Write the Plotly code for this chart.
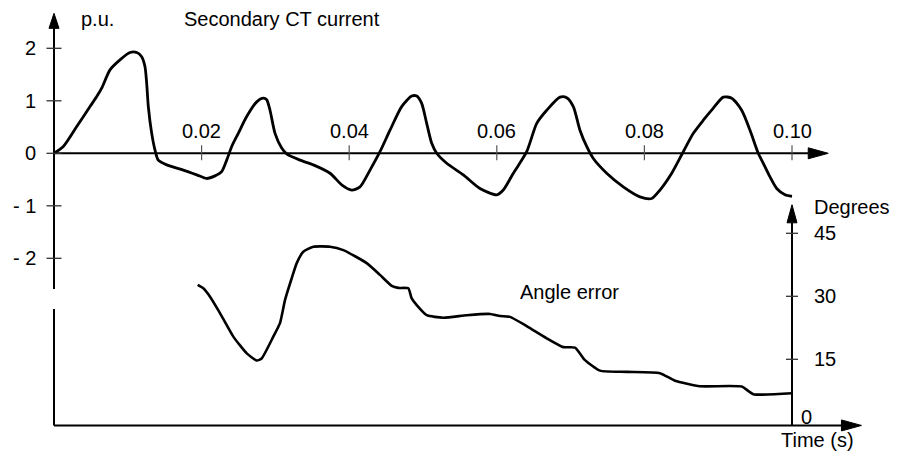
import plotly.graph_objects as go

# ---------------- data (time in ms) ----------------
t_current_ms = [0.0, 1.26, 3.08, 4.88, 5.79, 6.46, 7.59, 8.94, 10.30, 11.21, 11.88, 12.33, 12.56,
                12.78, 13.24, 13.69, 14.13, 15.27, 17.52, 19.34, 20.69, 21.82, 22.72, 23.40, 24.08,
                24.97, 26.11, 27.47, 28.36, 28.82, 29.27, 29.95, 30.85, 31.53, 33.33, 35.14, 37.40,
                38.98, 40.34, 41.46, 42.82, 44.17, 45.53, 47.11, 48.47, 49.15, 49.82, 50.50, 51.18,
                51.86, 53.21, 55.46, 57.72, 59.99, 60.88, 62.24, 64.05, 65.41, 66.76, 68.56, 69.47,
                70.37, 71.27, 72.18, 73.08, 74.89, 77.14, 79.40, 80.99, 82.11, 83.70, 85.27, 86.63,
                87.98, 89.34, 90.69, 91.83, 93.18, 94.31, 95.43, 96.11, 97.02, 97.93, 99.05, 100.0]
current_pu = [0.00, 0.13, 0.51, 0.89, 1.08, 1.24, 1.59, 1.78, 1.92, 1.92, 1.84, 1.65, 1.33,
              0.89, 0.38, 0.06, -0.13, -0.22, -0.32, -0.41, -0.48, -0.43, -0.35, -0.13, 0.13,
              0.38, 0.70, 0.98, 1.05, 1.02, 0.82, 0.38, 0.10, -0.01, -0.13, -0.22, -0.38,
              -0.60, -0.70, -0.64, -0.32, 0.03, 0.44, 0.89, 1.09, 1.09, 0.95, 0.57, 0.19,
              0.00, -0.19, -0.41, -0.67, -0.79, -0.70, -0.38, 0.03, 0.57, 0.82, 1.07, 1.06,
              0.89, 0.44, 0.13, -0.10, -0.38, -0.64, -0.83, -0.86, -0.70, -0.38, 0.03, 0.38,
              0.63, 0.86, 1.07, 1.05, 0.82, 0.44, 0.00, -0.19, -0.45, -0.67, -0.79, -0.82]

t_angle_ms = [19.47, 20.23, 21.14, 22.49, 24.30, 26.12, 27.47, 28.14, 29.72, 30.62, 31.30, 32.21,
              32.89, 33.78, 35.14, 37.40, 39.20, 42.37, 44.17, 45.76, 46.65, 48.01, 48.47, 49.15,
              50.50, 52.75, 55.92, 59.08, 60.43, 61.79, 64.05, 66.76, 69.01, 70.60, 71.95, 73.98,
              77.60, 82.11, 84.15, 87.53, 93.18, 94.76, 100.0]
angle_deg = [32.7, 31.9, 29.9, 26.0, 20.4, 16.4, 14.7, 15.2, 20.4, 23.6, 29.1, 34.3,
             37.9, 40.6, 41.8, 41.8, 41.0, 37.9, 35.1, 32.5, 32.0, 31.9, 29.5, 27.9,
             25.5, 24.9, 25.5, 25.8, 25.3, 25.1, 22.9, 20.0, 17.9, 17.8, 14.8, 12.3,
             12.0, 11.7, 9.9, 8.6, 8.5, 6.7, 6.9]

y_ticks = [2, 1, 0, -1, -2]
y_tick_labels = ["2", "1", "0", "- 1", "- 2"]
x_ticks = [0.02, 0.04, 0.06, 0.08, 0.10]
x_tick_labels = ["0.02", "0.04", "0.06", "0.08", "0.10"]
deg_ticks = [45, 30, 15]
deg_tick_labels = ["45", "30", "15"]

# ---------------- scale helpers (pixels per unit of the drawing) ----------------
PX_T = 7380.0      # px per second
PX_I = 52.5        # px per p.u.
PX_D = 4.2         # px per degree
PAGE_OFF = 8       # default page margin of the html body

def dt(px):
    return px / PX_T

def di(px):
    return px / PX_I

def dd(px):
    return px / PX_D

FONT = dict(family="Liberation Sans, Arial, sans-serif", size=20, color="black")
AX_W = 2
T_RIGHT = 0.10
DEG_AXIS = -0.75

fig = go.Figure()

fig.add_trace(go.Scatter(
    x=[v / 1000 for v in t_current_ms], y=current_pu, mode="lines",
    line=dict(color="black", width=2.8, shape="spline", smoothing=0.7),
    yaxis="y", hoverinfo="skip", showlegend=False))

fig.add_trace(go.Scatter(
    x=[v / 1000 for v in t_angle_ms], y=angle_deg, mode="lines",
    line=dict(color="black", width=2.6, shape="spline", smoothing=0.5),
    yaxis="y2", hoverinfo="skip", showlegend=False))

shapes = []
ann = []

def line(x0, y0, x1, y1, yref="y", width=AX_W, color="black"):
    shapes.append(dict(type="line", xref="x", yref=yref, x0=x0, y0=y0, x1=x1, y1=y1,
                       line=dict(color=color, width=width), layer="above"))

def tri(pts, yref="y"):
    p = "M " + " L ".join(f"{a},{b}" for a, b in pts) + " Z"
    shapes.append(dict(type="path", xref="x", yref=yref, path=p,
                       fillcolor="black", line=dict(color="black", width=1), layer="above"))

def text(x, y, s, yref="y", xanchor="center", yanchor="middle"):
    ann.append(dict(x=x, y=y, xref="x", yref=yref, text=s, showarrow=False,
                    xanchor=xanchor, yanchor=yanchor, font=FONT, borderpad=0))

# top y axis (p.u.)
i_top_base = 2.38
line(0, -2.585, 0, i_top_base)
tri([(0, i_top_base + di(15)), (-dt(5), i_top_base), (dt(5), i_top_base)])
# lower-left segment of axis (degrees panel)
line(0, DEG_AXIS, 0, 27.0, yref="y2")

# top time axis
t_arrow = 0.1022
line(0, 0, t_arrow, 0)
tri([(t_arrow + dt(20), 0), (t_arrow, di(5.5)), (t_arrow, -di(5.5))])

# bottom time axis
tb_arrow = 0.1067
line(0, DEG_AXIS, tb_arrow, DEG_AXIS, yref="y2")
tri([(tb_arrow + dt(20), DEG_AXIS), (tb_arrow, DEG_AXIS + dd(5.5)), (tb_arrow, DEG_AXIS - dd(5.5))], yref="y2")

# right degrees axis
d_arrow = 47.5
line(T_RIGHT, DEG_AXIS, T_RIGHT, d_arrow, yref="y2")
tri([(T_RIGHT, d_arrow + dd(18)), (T_RIGHT - dt(5), d_arrow), (T_RIGHT + dt(5), d_arrow)], yref="y2")

# y ticks (p.u.)
for v, lab in zip(y_ticks, y_tick_labels):
    line(-dt(7.5), v, dt(7.5), v, width=1.3, color="#333")
    text(-dt(17), v, lab, xanchor="right")

# x ticks (time)
for v, lab in zip(x_ticks, x_tick_labels):
    line(v, di(8), v, -di(7), width=1.2, color="#555")
    text(v, di(22), lab)

# degree ticks
for v, lab in zip(deg_ticks, deg_tick_labels):
    line(T_RIGHT - dt(6), v, T_RIGHT + dt(6), v, yref="y2", width=1.3, color="#333")
    text(T_RIGHT + dt(21), v, lab, yref="y2", xanchor="left")
text(T_RIGHT + dt(8), dd(5.6), "0", yref="y2", xanchor="left")

# labels
text(dt(43), di(134.0), "p.u.")
text(dt(227.5), di(134.3), "Secondary CT current")
text(T_RIGHT + dt(21), dd(215.6), "Degrees", yref="y2", xanchor="left")
text(T_RIGHT + dt(25), DEG_AXIS - dd(15), "Time (s)", yref="y2")
text(0.06985, 31.0, "Angle error", yref="y2")

fig.update_layout(
    width=900 - PAGE_OFF, height=461 - PAGE_OFF,
    margin=dict(l=0, r=0, t=0, b=0),
    paper_bgcolor="white", plot_bgcolor="white",
    xaxis=dict(range=[dt(PAGE_OFF - 54), dt(900 - 54)], visible=False, fixedrange=True),
    yaxis=dict(range=[-di(461 - 153.3), di(153.3 - PAGE_OFF)], visible=False, fixedrange=True),
    yaxis2=dict(range=[-dd(461 - 422.3), dd(422.3 - PAGE_OFF)], visible=False, overlaying="y",
                fixedrange=True),
    shapes=shapes, annotations=ann, showlegend=False,
)

fig.write_html("out.html")
